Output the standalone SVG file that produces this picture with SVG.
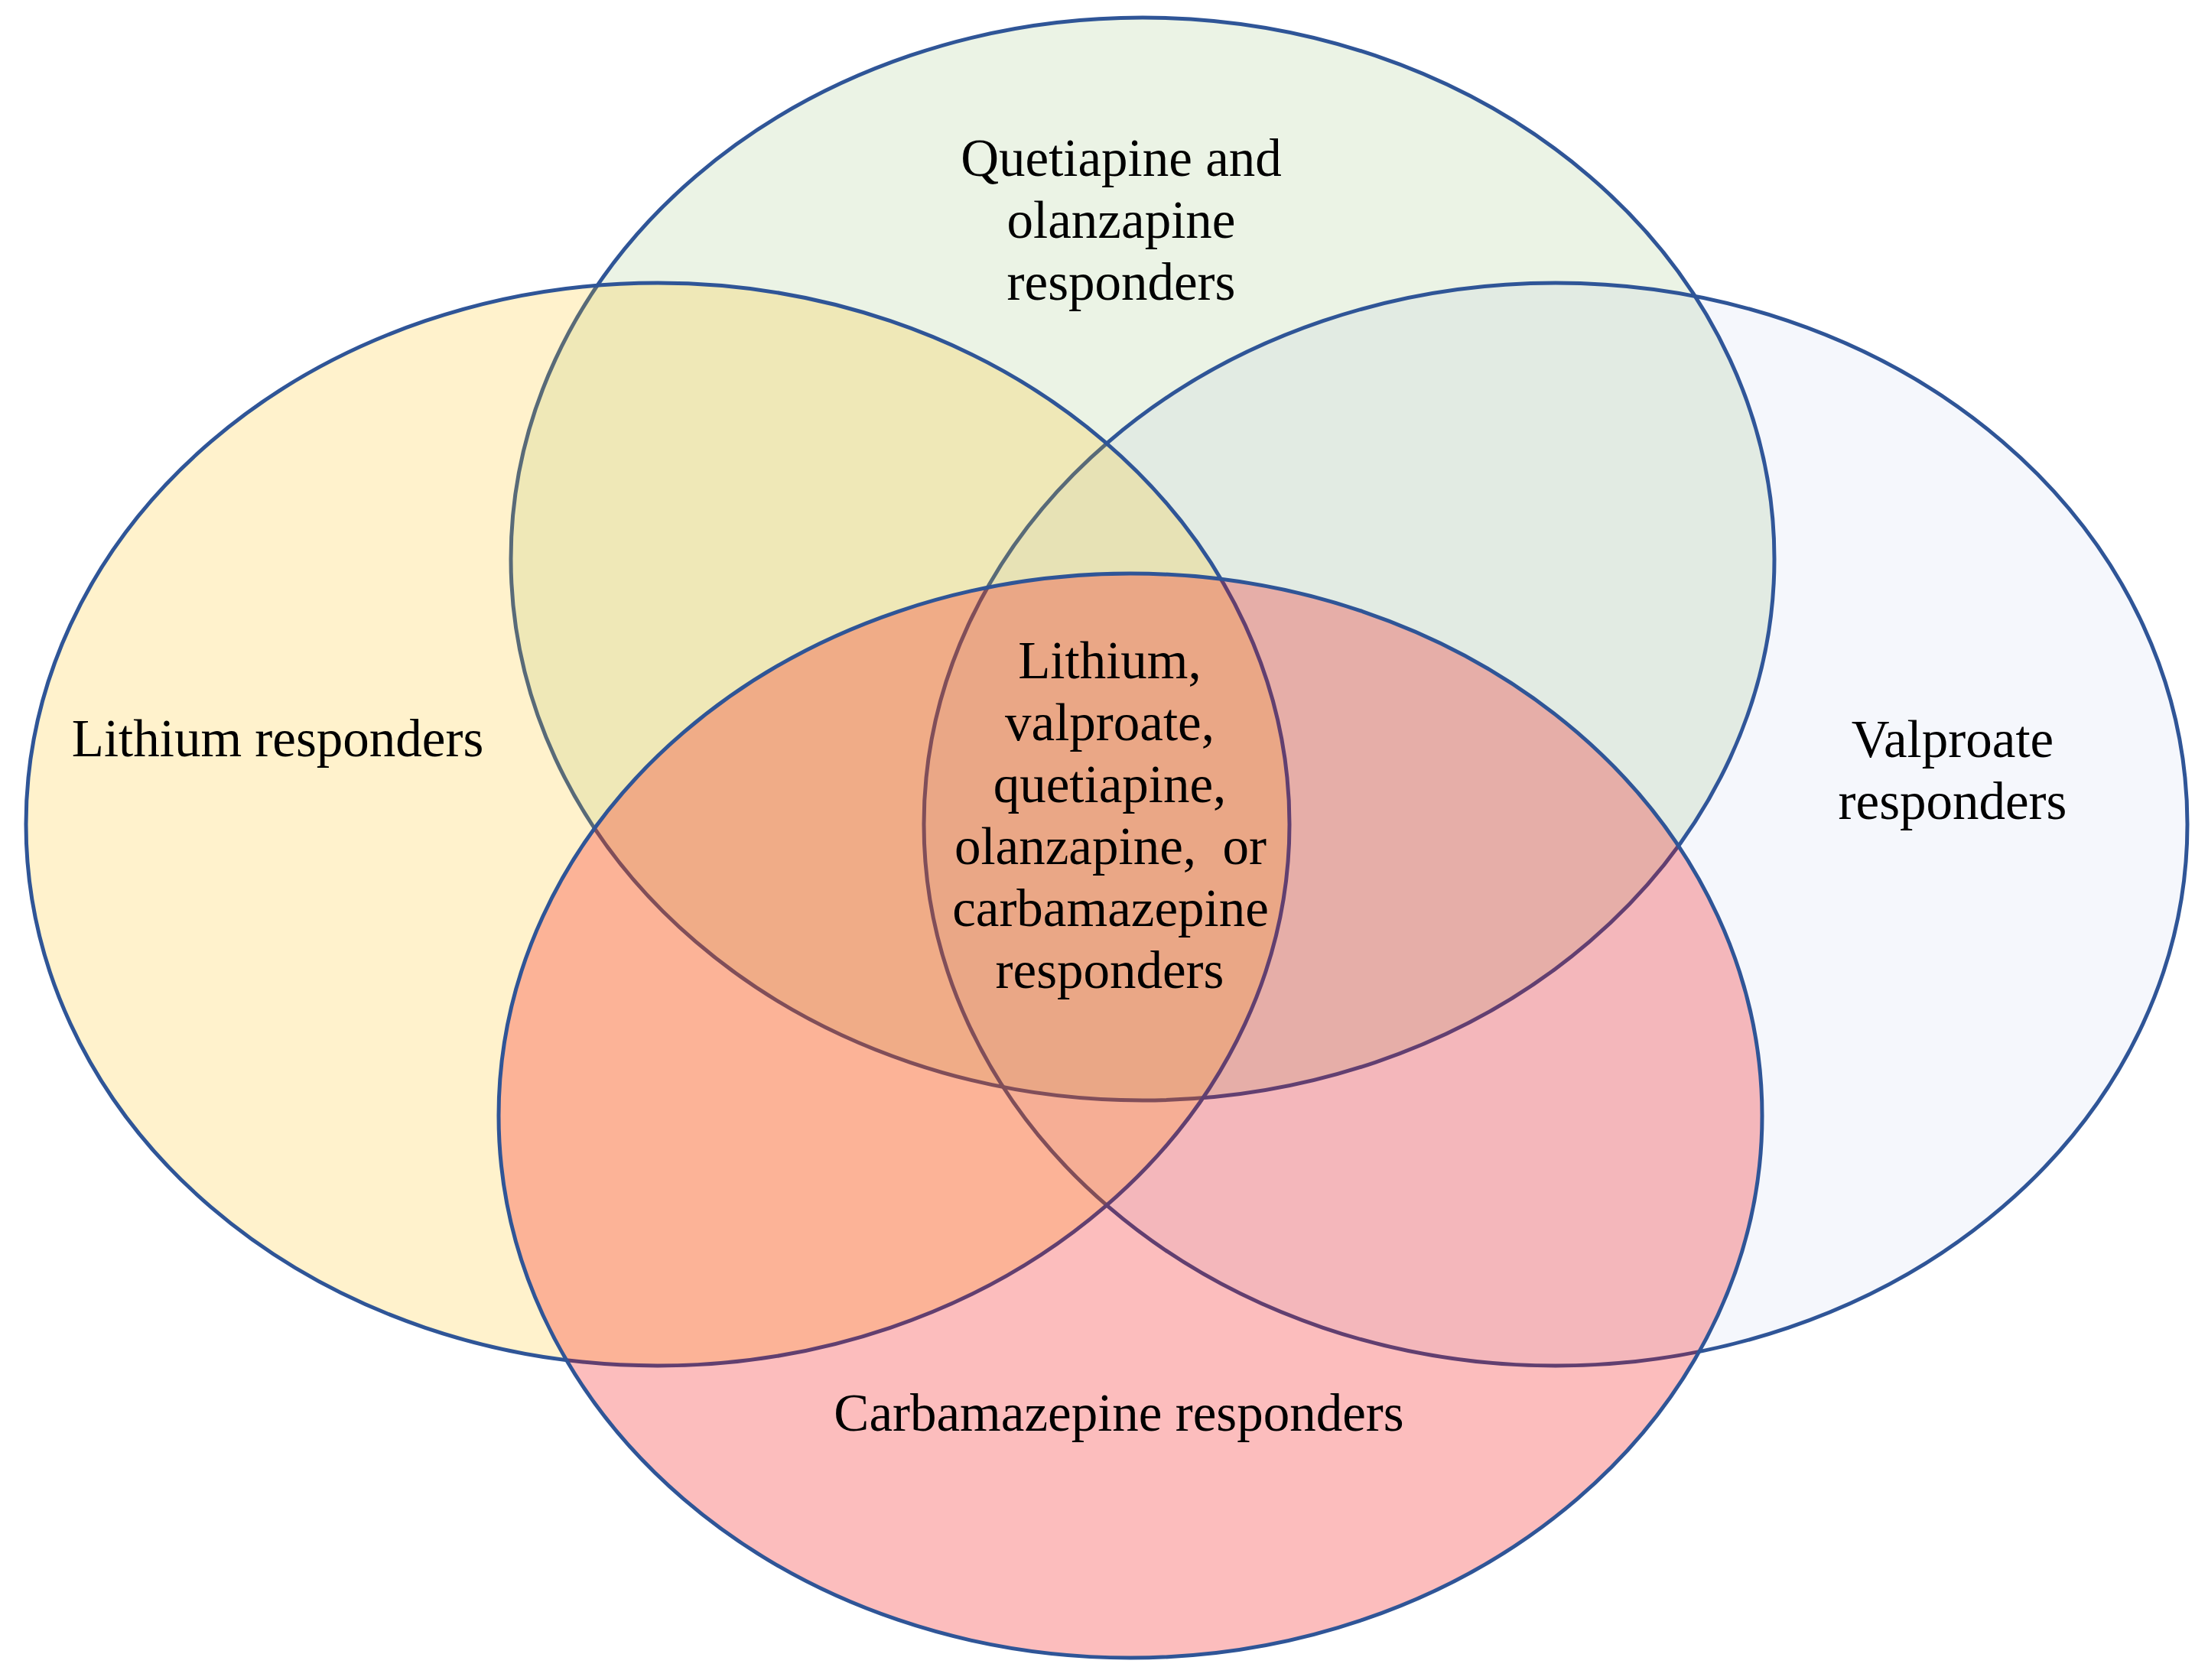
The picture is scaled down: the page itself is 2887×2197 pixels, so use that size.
<svg xmlns="http://www.w3.org/2000/svg" width="2887" height="2197" viewBox="0 0 2887 2197">
<style>
.set{stroke:#2F5597;stroke-width:5}
.lbl{font-family:"Liberation Serif","Times New Roman",serif;font-size:69px;fill:#000;text-anchor:middle}
</style>
<rect width="2887" height="2197" fill="#FFFFFF"/>
<g id="quetiapine">
<ellipse class="set" cx="1494" cy="731" rx="826" ry="708" fill="#70AD47" fill-opacity="0.14"/>
<text class="lbl" x="1466" y="230">Quetiapine and</text>
<text class="lbl" x="1466" y="311">olanzapine</text>
<text class="lbl" x="1466" y="392">responders</text>
</g>
<g id="valproate">
<ellipse class="set" cx="2034" cy="1078" rx="826" ry="708" fill="#4472C4" fill-opacity="0.055"/>
<text class="lbl" x="2553" y="990">Valproate</text>
<text class="lbl" x="2553" y="1071">responders</text>
</g>
<g id="lithium">
<ellipse class="set" cx="860" cy="1078" rx="826" ry="708" fill="#FFC000" fill-opacity="0.2"/>
<text class="lbl" x="363" y="989">Lithium responders</text>
</g>
<g id="carbamazepine">
<ellipse class="set" cx="1478" cy="1459" rx="826" ry="709" fill="#F50000" fill-opacity="0.26"/>
<text class="lbl" x="1463" y="1871">Carbamazepine responders</text>
</g>
<g id="all-responders">
<text class="lbl" x="1451" y="887">Lithium,</text>
<text class="lbl" x="1451" y="968">valproate,</text>
<text class="lbl" x="1451" y="1049">quetiapine,</text>
<text class="lbl" x="1452" y="1130">olanzapine,&#160; or</text>
<text class="lbl" x="1452" y="1211">carbamazepine</text>
<text class="lbl" x="1451" y="1292">responders</text>
</g>
</svg>
